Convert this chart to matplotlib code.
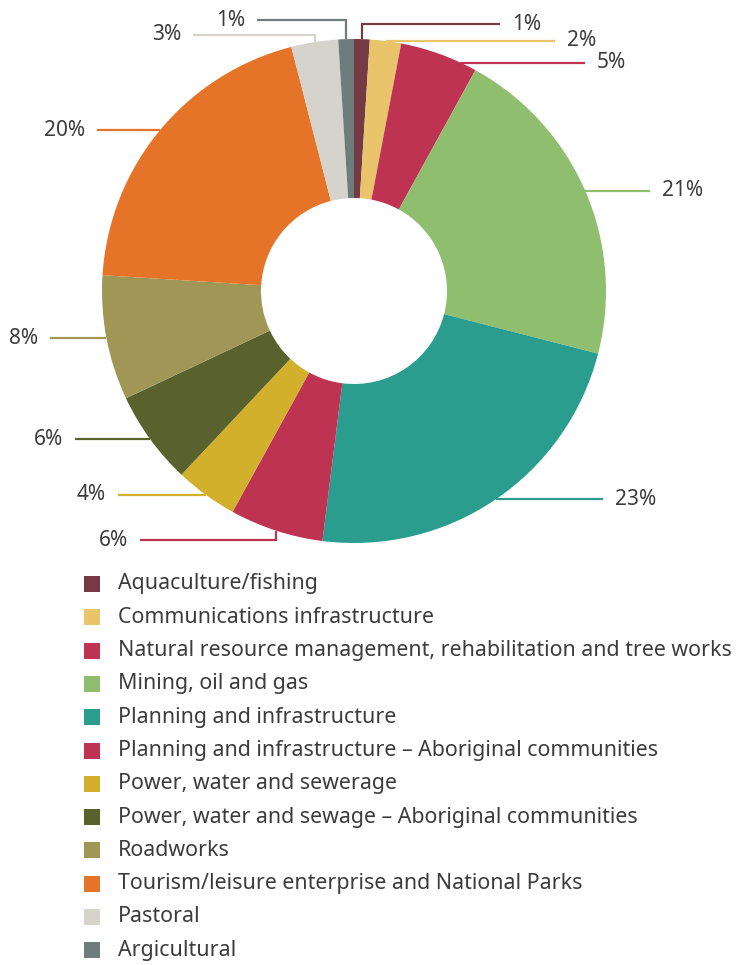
import matplotlib
matplotlib.use("Agg")
import matplotlib.pyplot as plt
import numpy as np

plt.rcParams["font.family"] = ["Noto Sans", "DejaVu Sans"]

categories = [
    "Aquaculture/fishing",
    "Communications infrastructure",
    "Natural resource management, rehabilitation and tree works",
    "Mining, oil and gas",
    "Planning and infrastructure",
    "Planning and infrastructure \u2013 Aboriginal communities",
    "Power, water and sewerage",
    "Power, water and sewage \u2013 Aboriginal communities",
    "Roadworks",
    "Tourism/leisure enterprise and National Parks",
    "Pastoral",
    "Argicultural",
]
shares = [1, 2, 5, 21, 23, 6, 4, 6, 8, 20, 3, 1]
colors = [
    "#763a45", "#e9c46a", "#bd3351", "#8fbe6f", "#2a9d8f", "#bd3351",
    "#d2b02c", "#59622c", "#a09757", "#e57428", "#d6d2cc", "#6e7c7b",
]

W, H = 736, 965
CX, CY = 354, 291          # centre in pixel coords (y from top)
R_OUT, R_IN = 252, 93
TEXT = "#3c3c3c"

# Label routing per slice: (anchor angle offset from mid, style, elbow y, line end x, side)
# style "h": straight horizontal line; "v": up/down to elbow y, then horizontal
routes = [
    (0.0, "v", 24, 500, "r"),
    (0.0, "h", None, 555, "r"),
    (5.2, "h", None, 585, "r"),
    (0.0, "h", None, 650, "r"),
    (0.0, "h", None, 603, "r"),
    (0.0, "v", 540, 140, "l"),
    (0.0, "h", None, 118, "l"),
    (0.0, "h", None, 75, "l"),
    (0.0, "h", None, 50, "l"),
    (0.0, "h", None, 97, "l"),
    (0.0, "v", 35, 193, "l"),
    (0.0, "v", 20, 257, "l"),
]


def fy(y):
    return H - y


fig = plt.figure(figsize=(W / 100, H / 100), dpi=100)
ax = fig.add_axes([0, 0, 1, 1])

ax.pie(
    shares, colors=colors, startangle=90, counterclock=False,
    radius=R_OUT, center=(CX, fy(CY)),
    wedgeprops=dict(width=R_OUT - R_IN, linewidth=0),
)
ax.set_xlim(0, W)
ax.set_ylim(0, H)
ax.set_aspect("equal")
ax.axis("off")

# leader lines and percentage labels
bounds = np.concatenate([[0], np.cumsum(shares)]) / sum(shares) * 360
for i, (val, col) in enumerate(zip(shares, colors)):
    off, style, ey, ex, side = routes[i]
    theta = np.radians((bounds[i] + bounds[i + 1]) / 2 + off)
    ax_x = CX + R_OUT * np.sin(theta)
    ax_y = CY - R_OUT * np.cos(theta)
    if style == "h":
        xs, ys = [ax_x, ex], [ax_y, ax_y]
        ty = ax_y
    else:
        xs, ys = [ax_x, ax_x, ex], [ax_y, ey, ey]
        ty = ey
    ax.plot(xs, [fy(v) for v in ys], color=col, lw=1.6,
            solid_capstyle="butt", solid_joinstyle="miter")
    if side == "r":
        ax.text(ex + 12, fy(ty), f"{val}%", ha="left", va="center",
                fontsize=15, color=TEXT)
    else:
        ax.text(ex - 12, fy(ty), f"{val}%", ha="right", va="center",
                fontsize=15, color=TEXT)

# legend
for i, (name, col) in enumerate(zip(categories, colors)):
    y = 584 + i * 33.3
    ax.scatter([91.5], [fy(y)], marker="s", s=15 ** 2 * 0.52, color=col,
               linewidths=0)
    ax.text(118, fy(y), name, ha="left", va="center", fontsize=15.4,
            color=TEXT)

fig.savefig("out.png", dpi=100)
